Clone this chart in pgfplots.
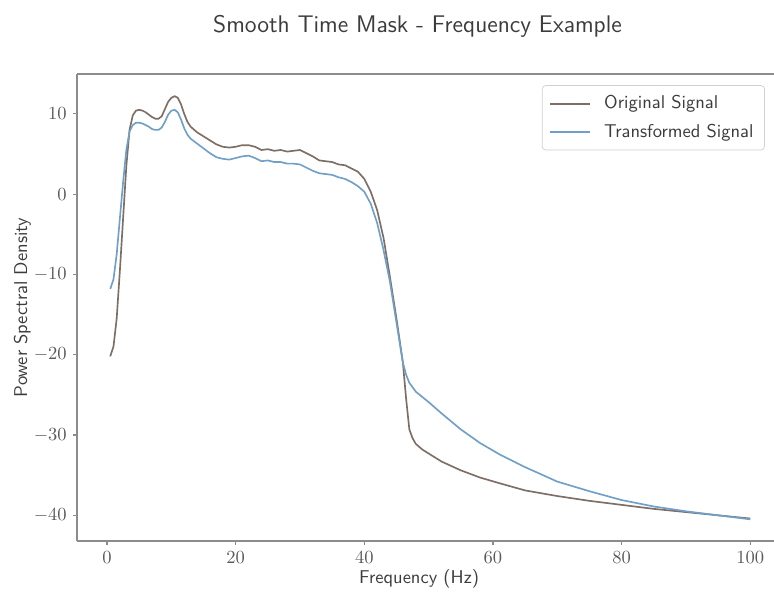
\documentclass[border=0pt]{standalone}
\usepackage{pgfplots}
\pgfplotsset{compat=1.18}

\definecolor{origcol}{RGB}{125,110,102}
\definecolor{transcol}{RGB}{112,160,200}
\definecolor{spinecol}{RGB}{140,140,140}
\definecolor{textcol}{RGB}{60,60,60}

\begin{document}
\begin{tikzpicture}
\begin{axis}[
  scale only axis,
  width=376.4pt, height=252.2pt,
  xmin=-4.67, xmax=103.7,
  ymin=-43.2, ymax=14.97,
  axis x line*=box, axis y line*=left,
  xtick={0,20,40,60,80,100},
  ytick={-40,-30,-20,-10,0,10},
  xtick pos=lower, ytick pos=left,
  tick align=outside,
  major tick length=2pt,
  every tick/.style={spinecol, line width=0.6pt},
  axis line style={spinecol, line width=0.8pt},
  tick label style={textcol!85},
  label style={font=\sffamily, textcol},
  title={Smooth Time Mask - Frequency Example},
  title style={font=\sffamily\fontsize{13}{15}\selectfont, textcol, at={(axis description cs:0.4885,1)}, anchor=base, yshift=16.6pt},
  xlabel={Frequency (Hz)},
  xlabel style={at={(axis description cs:0.4907,0)}, anchor=base, yshift=-23.2pt},
  ylabel={Power Spectral Density},
  ylabel style={at={(axis description cs:-0.0717,0.5)}, anchor=base, rotate=0},
  legend style={at={(axis description cs:0.987,0.976)}, anchor=north east,
    draw=black!18, rounded corners=2pt, fill=white, font=\sffamily, text=textcol,
    inner xsep=4pt, inner ysep=3.5pt, row sep=2.5pt,
    /tikz/every odd column/.append style={column sep=5pt}},
  legend cell align=left,
  legend image code/.code={\draw[#1] (0cm,0cm) -- (0.76cm,0cm);},
]
\addplot[origcol, line width=0.9pt] coordinates {
(0.5,-20.2) (1.0,-19.0) (1.5,-15.5) (2.0,-9.5) (2.5,-3.0) (3.0,3.5) (3.5,8.0)
(4.0,9.8) (4.5,10.4) (5.0,10.5) (5.5,10.4) (6.0,10.2) (6.5,9.9) (7.0,9.6)
(7.5,9.4) (8.0,9.4) (8.5,9.7) (9.0,10.6) (9.5,11.5) (10.0,12.0) (10.5,12.2)
(11.0,12.0) (11.5,11.2) (12.0,10.0) (12.5,9.0) (13.0,8.4) (14.0,7.7) (15.0,7.2)
(16.0,6.7) (17.0,6.2) (18.0,5.9) (19.0,5.8) (20.0,5.9) (21.0,6.1) (22.0,6.1)
(23.0,5.9) (24.0,5.5) (25.0,5.6) (26.0,5.4) (27.0,5.5) (28.0,5.3) (29.0,5.4)
(30.0,5.5) (31.0,5.1) (32.0,4.7) (33.0,4.2) (34.0,4.1) (35.0,4.0) (36.0,3.7)
(37.0,3.6) (38.0,3.2) (39.0,2.8) (40.0,1.9) (41.0,0.3) (42.0,-2.0) (43.0,-5.5)
(44.0,-10.4) (45.0,-15.5) (46.0,-21.0) (46.5,-25.5) (47.0,-29.3) (47.5,-30.4)
(48.0,-31.1) (49.0,-31.8) (50.0,-32.3) (52.0,-33.3) (55.0,-34.4) (58.0,-35.3)
(61.0,-36.0) (65.0,-36.9) (70.0,-37.6) (75.0,-38.2) (80.0,-38.7) (85.0,-39.2)
(90.0,-39.6) (95.0,-40.0) (100.0,-40.4)
};
\addlegendentry{Original Signal}
\addplot[transcol, line width=0.9pt] coordinates {
(0.5,-11.8) (1.0,-10.6) (1.5,-7.5) (2.0,-3.0) (2.5,1.5) (3.0,5.5) (3.5,7.8)
(4.0,8.6) (4.5,8.9) (5.0,8.9) (5.5,8.8) (6.0,8.6) (6.5,8.4) (7.0,8.1)
(7.5,8.0) (8.0,8.0) (8.5,8.3) (9.0,9.0) (9.5,9.9) (10.0,10.4) (10.5,10.5)
(11.0,10.2) (11.5,9.3) (12.0,8.2) (12.5,7.4) (13.0,6.9) (14.0,6.3) (15.0,5.7)
(16.0,5.1) (17.0,4.6) (18.0,4.4) (19.0,4.3) (20.0,4.5) (21.0,4.7) (22.0,4.8)
(23.0,4.5) (24.0,4.1) (25.0,4.2) (26.0,4.0) (27.0,4.0) (28.0,3.8) (29.0,3.8)
(30.0,3.7) (31.0,3.3) (32.0,2.9) (33.0,2.6) (34.0,2.5) (35.0,2.4) (36.0,2.1)
(37.0,1.9) (38.0,1.5) (39.0,1.0) (40.0,0.3) (41.0,-1.2) (42.0,-3.6) (43.0,-7.0)
(44.0,-11.0) (45.0,-16.0) (46.0,-21.0) (46.5,-22.5) (47.0,-23.5) (48.0,-24.6)
(50.0,-25.9) (52.0,-27.3) (55.0,-29.3) (58.0,-31.0) (61.0,-32.4) (65.0,-34.0)
(70.0,-35.8) (75.0,-37.0) (80.0,-38.1) (85.0,-38.9) (90.0,-39.5) (95.0,-40.0)
(100.0,-40.5)
};
\addlegendentry{Transformed Signal}
\end{axis}
% fixed page frame around the plot
\pgfresetboundingbox
\path[use as bounding box] (-41.58pt,-29.7pt) rectangle (376.38pt,292.14pt);
\end{tikzpicture}
\end{document}
